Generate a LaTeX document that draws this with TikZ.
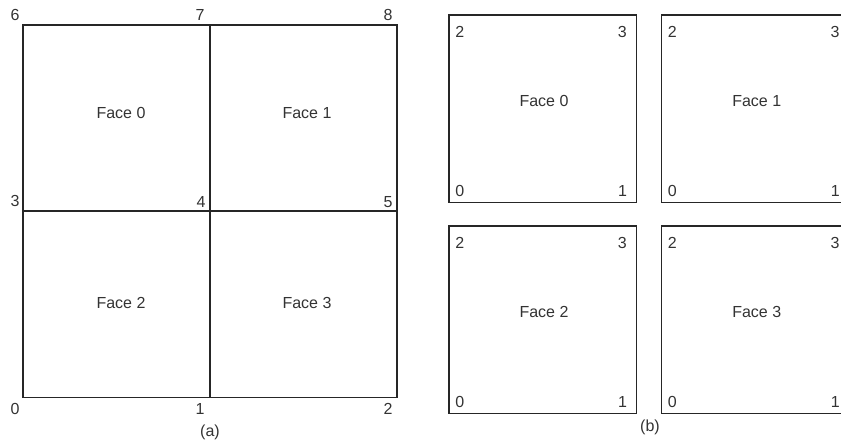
\documentclass[tikz,border=0pt]{standalone}
\usepackage{fontspec}
\setmainfont{Liberation Sans}
\usetikzlibrary{calc}
\begin{document}
\begin{tikzpicture}[x=1pt,y=-1pt,
  edge/.style={draw=black!85,line width=1.2pt},
  lbl/.style={inner sep=0pt,anchor=center,font=\fontsize{16}{18}\selectfont,text=black!80}]
\useasboundingbox (0,0) rectangle (841,442);
\begin{scope}
\clip (0,0) rectangle (841,442);
% (a) grid vertices
\coordinate (v0) at (23,397.5);
\coordinate (v1) at (210,397.5);
\coordinate (v2) at (397,397.5);
\coordinate (v3) at (23,211);
\coordinate (v4) at (210,211);
\coordinate (v5) at (397,211);
\coordinate (v6) at (23,25);
\coordinate (v7) at (210,25);
\coordinate (v8) at (397,25);
\draw[edge] (v0) rectangle (v8);
\draw[edge] (v3) -- (v5);
\draw[edge] (v7) -- (v1);
\node[lbl] (n6) at (15,14.7) {6};
\node[lbl] (n7) at (200,14.7) {7};
\node[lbl] (n8) at (388,14.7) {8};
\node[lbl] (n3) at (15,201) {3};
\node[lbl] (n4) at (201,202) {4};
\node[lbl] (n5) at (388,202) {5};
\node[lbl] (n0) at (15,409.3) {0};
\node[lbl] (n1) at (200,409.3) {1};
\node[lbl] (n2) at (388,409.3) {2};
\node[lbl] (fa0) at (121,113) {Face 0};
\node[lbl] (fa1) at (307,113) {Face 1};
\node[lbl] (fa2) at (121,303) {Face 2};
\node[lbl] (fa3) at (307,303) {Face 3};
\node[lbl] (capa) at (210,432) {(a)};
% (b) separate faces
\foreach \i/\x/\y in {0/449/15, 1/661.7/15, 2/449/226, 3/661.7/226}{
  \draw[edge] (\x,\y) rectangle ++(187.7,187.2);
  \node[lbl] (b\i c2) at ($(\x,\y)+(10.7,17)$) {2};
  \node[lbl] (b\i c3) at ($(\x,\y)+(173.3,17)$) {3};
  \node[lbl] (b\i c0) at ($(\x,\y)+(10.7,175.5)$) {0};
  \node[lbl] (b\i c1) at ($(\x,\y)+(173.5,175.5)$) {1};
  \node[lbl] (bf\i) at ($(\x,\y)+(95,86)$) {Face \i};
}
\node[lbl] (capb) at (650,427.7) {(b)};
\end{scope}
\end{tikzpicture}
\end{document}
